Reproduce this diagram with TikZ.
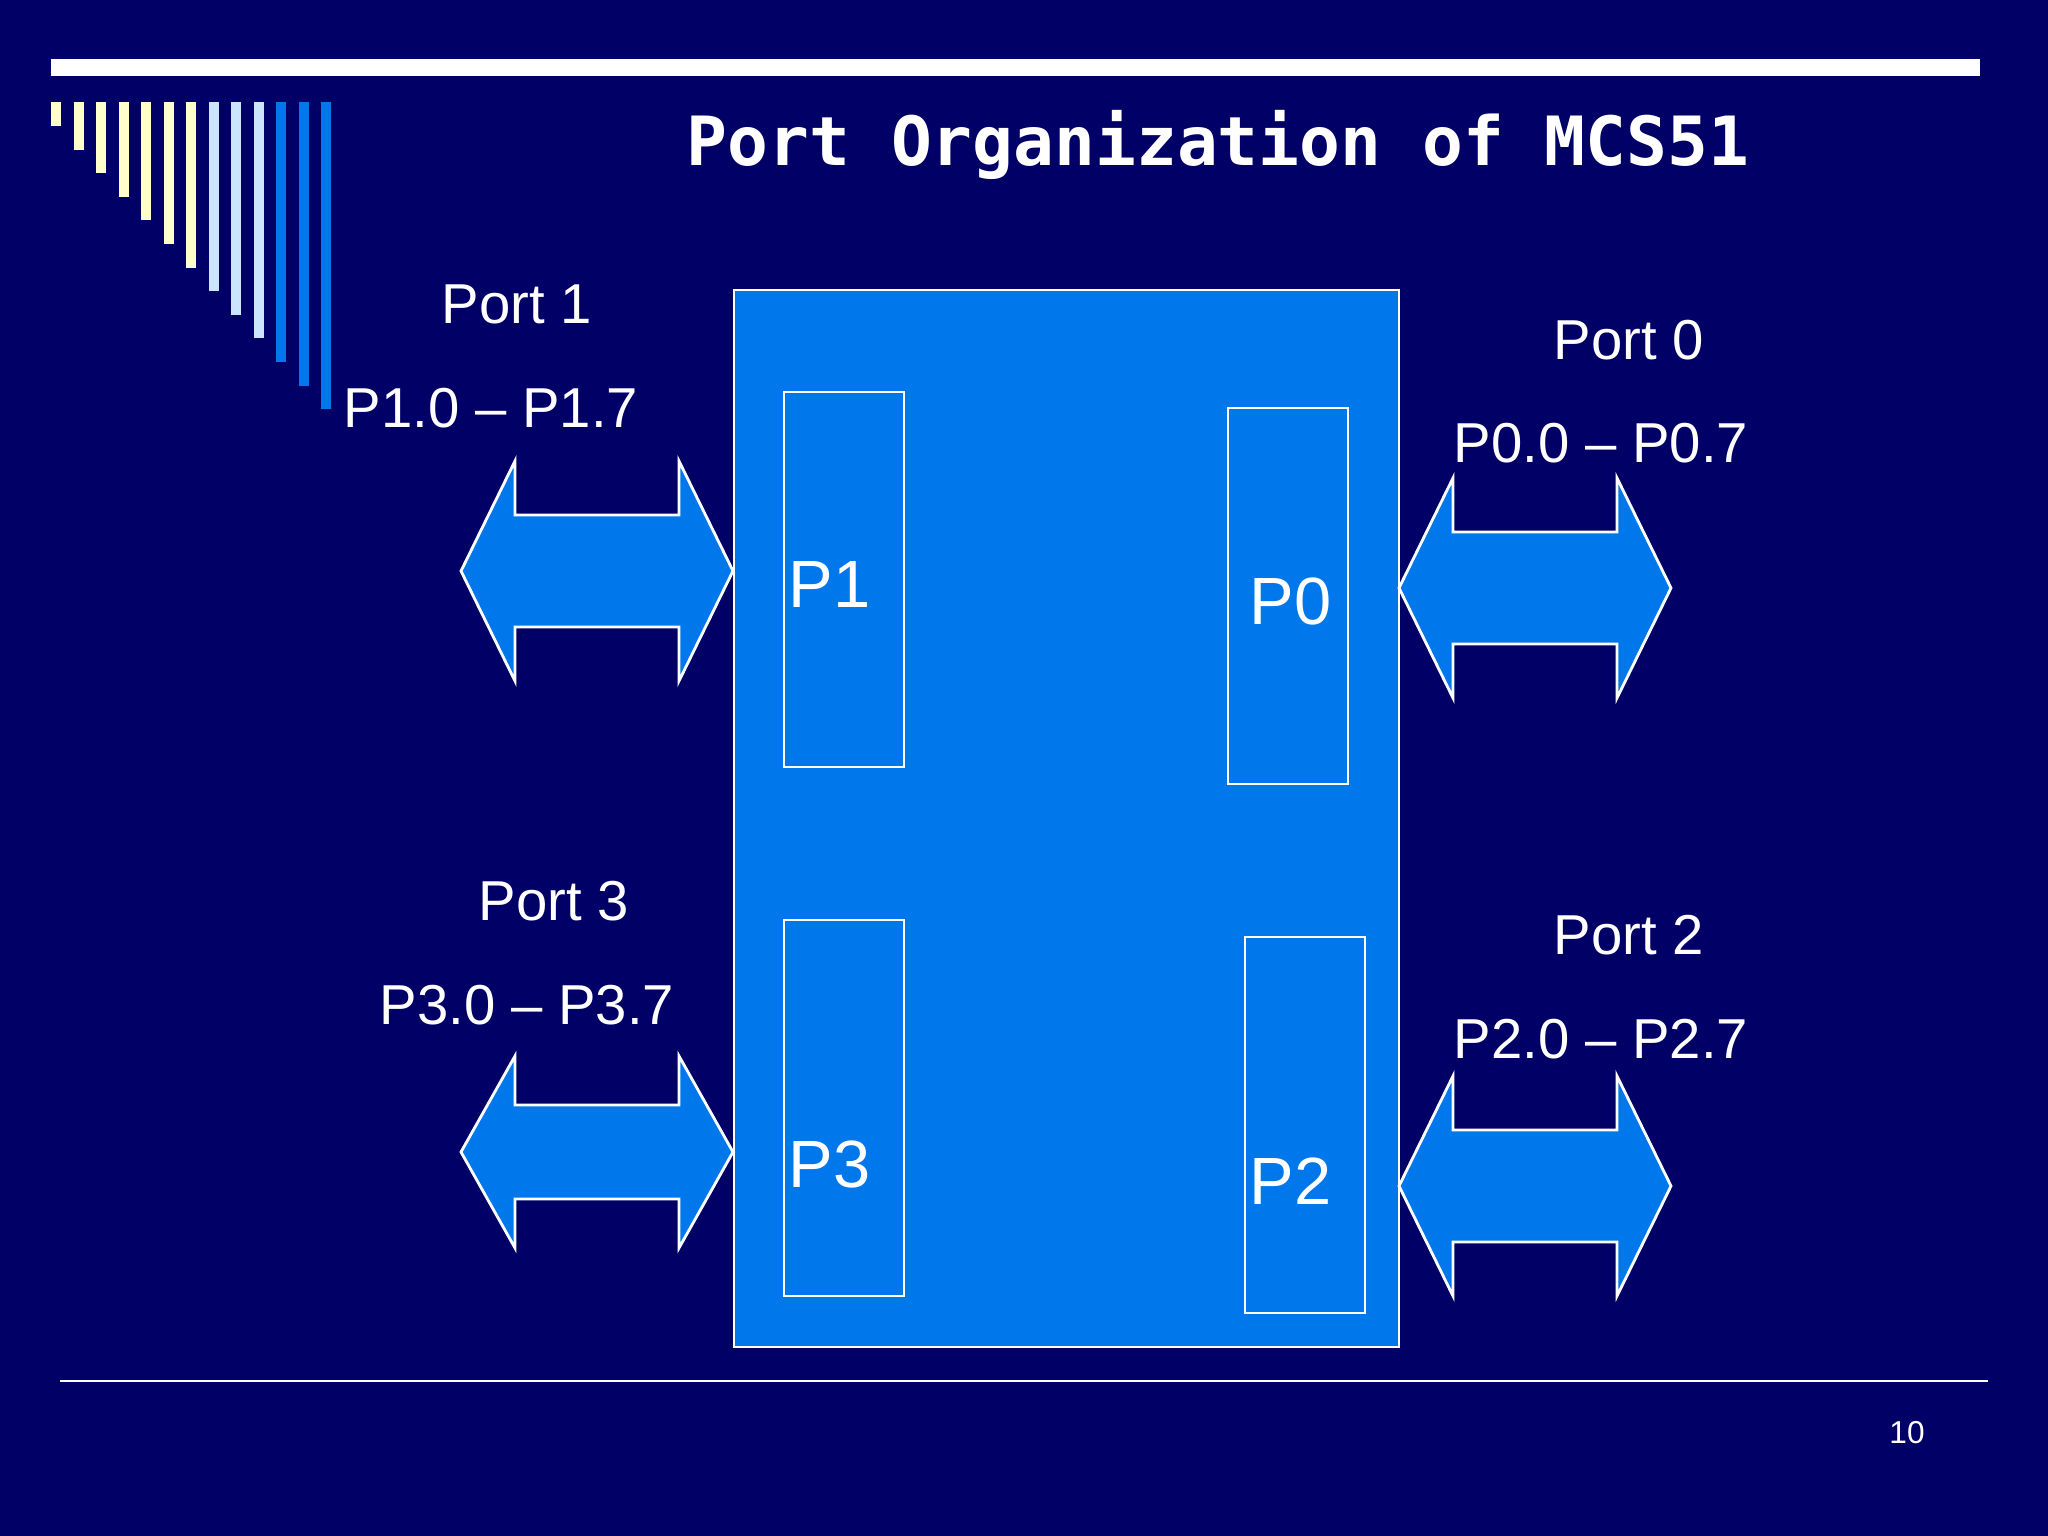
\documentclass[tikz,border=0pt]{standalone}
\usepackage{fontspec}
\setmainfont{Liberation Sans}
\newfontfamily\monofont{DejaVu Sans Mono}
\usepackage{tikz}

\definecolor{navy}{RGB}{0,0,102}
\definecolor{chipblue}{RGB}{0,119,234}
\definecolor{cream}{RGB}{255,255,204}
\definecolor{paleblue}{RGB}{204,229,255}

\begin{document}
\begin{tikzpicture}[x=0.01cm, y=-0.01cm,
	portbox/.style={draw=white, line width=0.6pt, fill=chipblue, inner sep=0pt, minimum width=1.2cm, minimum height=3.75cm},
	bigarrow/.style={draw=white, line width=0.8pt, fill=chipblue, line join=miter},
	lbl/.style={text=white, anchor=base, inner sep=0pt, font=\fontsize{16}{19}\selectfont},
	plbl/.style={text=white, anchor=base west, inner sep=0pt, font=\fontsize{19}{23}\selectfont}]
	
	% slide background
	\fill[navy] (0,0) rectangle (2048,1536);
	\useasboundingbox (0,0) rectangle (2048,1536);
	\fill[white] (51,59) rectangle (1980,76);
	\foreach \i/\c in {0/cream,1/cream,2/cream,3/cream,4/cream,5/cream,6/cream,7/paleblue,8/paleblue,9/paleblue,10/chipblue,11/chipblue,12/chipblue}
		\fill[\c] ({51+22.5*\i},102) rectangle ++(10,{24+23.6*\i});
	\draw[white, line width=0.7pt] (60,1381) -- (1988,1381);
	\node[text=white, anchor=base, inner sep=0pt, font=\fontsize{9}{11}\selectfont] (page) at (1907,1443) {10};
	
	\node[text=white, anchor=base, inner sep=0pt, font=\monofont\bfseries\fontsize{19.3}{23}\selectfont] (title) at (1218,165) {Port Organization of MCS51};
	
	% the chip and its ports
	\node[draw=white, line width=0.6pt, fill=chipblue, minimum width=6.65cm, minimum height=10.57cm] (chip) at (1066.5,818.5) {};
	\node[portbox] (p1) at (844,579.5)  {};
	\node[portbox] (p0) at (1288,596)   {};
	\node[portbox] (p3) at (844,1108)   {};
	\node[portbox] (p2) at (1305,1125)  {};
	
	\node[plbl] (p1txt) at (788,607)  {P1};
	\node[plbl] (p0txt) at (1249,624) {P0};
	\node[plbl] (p3txt) at (788,1187) {P3};
	\node[plbl] (p2txt) at (1249,1204) {P2};
	
	% two-way arrows
	\foreach \x/\y/\h/\s in {461/571/110/56, 1399/588/110/56, 461/1152/96/47, 1399/1186/110/56}
		\draw[bigarrow] (\x,\y) -- ({\x+54},{\y-\h}) -- ({\x+54},{\y-\s}) -- ({\x+218},{\y-\s}) -- ({\x+218},{\y-\h}) -- ({\x+272},\y) -- ({\x+218},{\y+\h}) -- ({\x+218},{\y+\s}) -- ({\x+54},{\y+\s}) -- ({\x+54},{\y+\h}) -- cycle;
	
	\node[lbl] (port1) at (517,323)   {Port 1};
	\node[lbl] (pins1) at (491,427)   {P1.0 – P1.7};
	\node[lbl] (port0) at (1629,359)  {Port 0};
	\node[lbl] (pins0) at (1601,462)  {P0.0 – P0.7};
	\node[lbl] (port3) at (554,920)   {Port 3};
	\node[lbl] (pins3) at (527,1024)  {P3.0 – P3.7};
	\node[lbl] (port2) at (1629,954)  {Port 2};
	\node[lbl] (pins2) at (1601,1058) {P2.0 – P2.7};
	
\end{tikzpicture}
\end{document}
